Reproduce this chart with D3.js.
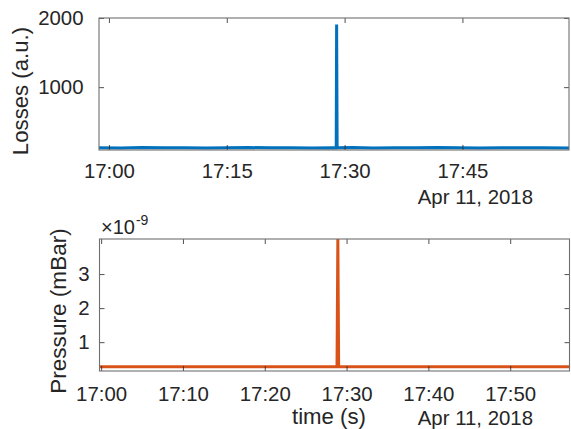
<!DOCTYPE html>
<html>
<head>
<meta charset="utf-8">
<script src="https://cdn.jsdelivr.net/npm/d3@7"></script>
<style>
  html, body { margin: 0; padding: 0; background: #fff; }
  svg { display: block; font-family: "Liberation Sans", Arial, Helvetica, sans-serif; }
  .tick text { fill: #262626; font-size: 20.4px; }
  .tick line { stroke: #262626; stroke-width: 0.8; }
</style>
</head>
<body>
<svg id="chart" width="571" height="429"></svg>
<script>
// Beam losses logged on Apr 11, 2018
const lossTimes = ["16:58:44","17:01:30","17:04:10","17:07:00","17:09:40","17:12:20","17:15:00","17:17:45","17:20:30","17:23:10","17:25:50","17:28:20","17:28:56","17:28:59","17:29:03","17:31:00","17:33:40","17:36:20","17:39:00","17:41:45","17:44:30","17:47:10","17:49:50","17:52:30","17:55:10","17:58:34"];
const lossValues = [124,121,126,122,125,120,123,127,122,124,121,125,122,1905,123,126,121,124,122,127,123,120,125,122,124,121];

// Vacuum pressure over the same hour (mBar)
const pressTimes = ["16:59:48","17:03:00","17:07:00","17:11:00","17:15:00","17:19:00","17:23:00","17:26:30","17:28:50","17:28:56","17:29:02","17:31:00","17:35:00","17:39:00","17:43:00","17:47:00","17:51:00","17:54:00","17:57:15"];
const pressValues = [2.8e-10,2.8e-10,2.79e-10,2.8e-10,2.78e-10,2.79e-10,2.8e-10,2.79e-10,2.8e-10,4.03e-9,2.85e-10,2.8e-10,2.79e-10,2.78e-10,2.79e-10,2.78e-10,2.79e-10,2.78e-10,2.78e-10];

const lossTicks = ["17:00","17:15","17:30","17:45"];
const pressTicks = ["17:00","17:10","17:20","17:30","17:40","17:50"];
const lossYTicks = [1000, 2000];
const pressYTicks = [1, 2, 3];
const dateLabel = "Apr 11, 2018";

const parse = d3.timeParse("%Y-%m-%d %H:%M:%S");
const day = "2018-04-11 ";
const t = s => parse(day + (s.length === 5 ? s + ":00" : s));

const svg = d3.select("#chart");
const ink = "#262626";

function panel(cfg) {
  const {left, right, top, bottom, xDomain, yDomain, xTicks, yTicks, yFormat,
         times, values, color, xPad, yPad, id} = cfg;
  const x = d3.scaleTime().domain(xDomain).range([left, right]);
  const y = d3.scaleLinear().domain(yDomain).range([bottom, top]);

  svg.append("clipPath").attr("id", id)
    .append("rect").attr("x", left).attr("y", top)
    .attr("width", right - left).attr("height", bottom - top);

  const line = d3.line().x(d => x(d[0])).y(d => y(d[1]));
  const pts = times.map((s, i) => [t(s), values[i]]);
  svg.append("path").datum(pts)
    .attr("clip-path", `url(#${id})`)
    .attr("d", line)
    .attr("fill", "none").attr("stroke", color)
    .attr("stroke-width", 3).attr("stroke-linejoin", "miter");

  const fmt = d3.timeFormat("%H:%M");
  const xb = svg.append("g").attr("transform", `translate(0,${bottom})`)
    .call(d3.axisBottom(x).tickValues(xTicks.map(t)).tickFormat(fmt)
      .tickSize(-5).tickPadding(xPad));
  const xt = svg.append("g").attr("transform", `translate(0,${top})`)
    .call(d3.axisTop(x).tickValues(xTicks.map(t)).tickFormat("").tickSize(-5));
  const yl = svg.append("g").attr("transform", `translate(${left},0)`)
    .call(d3.axisLeft(y).tickValues(yTicks).tickFormat(yFormat)
      .tickSize(-5).tickPadding(yPad));
  const yr = svg.append("g").attr("transform", `translate(${right},0)`)
    .call(d3.axisRight(y).tickValues(yTicks).tickFormat("").tickSize(-5));
  [xb, xt, yl, yr].forEach(g => {
    g.select(".domain").remove();
    g.selectAll("text").attr("font-family", null).attr("font-size", null);
  });

  svg.append("rect").attr("x", left).attr("y", top)
    .attr("width", right - left).attr("height", bottom - top)
    .attr("fill", "none").attr("stroke", "#6f6f6f").attr("stroke-width", 1.1);
  return {x, y};
}

// Losses panel
panel({
  id: "clipLoss", left: 99, right: 569, top: 18, bottom: 150,
  xDomain: [t("16:58:44"), t("17:58:34")], yDomain: [91, 2000],
  xTicks: lossTicks, yTicks: lossYTicks, yFormat: d3.format("d"),
  times: lossTimes, values: lossValues, color: "#0072BD", xPad: 14, yPad: 15.5
});

// Pressure panel (values shown in units of 1e-9 mBar)
panel({
  id: "clipPress", left: 99.5, right: 569.5, top: 239, bottom: 371,
  xDomain: [t("16:59:48"), t("17:57:15")], yDomain: [0.153e-9, 4.03e-9],
  xTicks: pressTicks, yTicks: pressYTicks.map(v => v * 1e-9), yFormat: v => d3.format("d")(Math.round(v * 1e9)),
  times: pressTimes, values: pressValues, color: "#D95319", xPad: 15.5, yPad: 10
});

// Axis labels and annotations
svg.append("text").attr("transform", "translate(28,91) rotate(-90)")
  .attr("text-anchor", "middle").attr("font-size", 22.2).attr("fill", ink)
  .text("Losses (a.u.)");
svg.append("text").attr("transform", "translate(66,311) rotate(-90)")
  .attr("text-anchor", "middle").attr("font-size", 22.6).attr("fill", ink)
  .text("Pressure (mBar)");
svg.append("text").attr("x", 329).attr("y", 424)
  .attr("text-anchor", "middle").attr("font-size", 22.2).attr("fill", ink)
  .text("time (s)");
svg.append("text").attr("x", 533).attr("y", 204)
  .attr("text-anchor", "end").attr("font-size", 20.4).attr("fill", ink)
  .text(dateLabel);
svg.append("text").attr("x", 533).attr("y", 424.5)
  .attr("text-anchor", "end").attr("font-size", 20.4).attr("fill", ink)
  .text(dateLabel);

const exp = svg.append("text").attr("x", 101).attr("y", 234)
  .attr("font-size", 20).attr("fill", ink);
exp.append("tspan").text("\u00D710");
exp.append("tspan").attr("font-size", 14).attr("dy", -9).attr("dx", 1).text("-9");
</script>
</body>
</html>
